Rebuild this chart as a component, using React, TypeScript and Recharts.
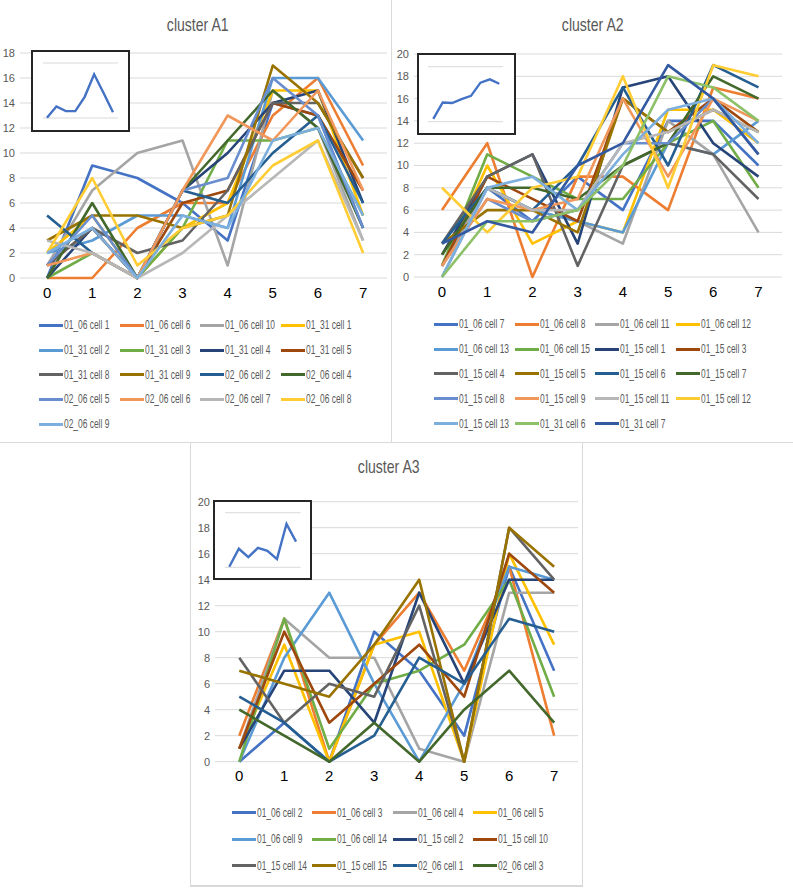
import React from "react";
import { LineChart, Line, XAxis, YAxis, CartesianGrid } from "recharts";

const categories = [0, 1, 2, 3, 4, 5, 6, 7];
const ticks18 = [0, 2, 4, 6, 8, 10, 12, 14, 16, 18];
const ticks20 = [0, 2, 4, 6, 8, 10, 12, 14, 16, 18, 20];

// Excel office palette, in series order
const palette = [
  "#4472C4", "#ED7D31", "#A5A5A5", "#FFC000", "#5B9BD5", "#70AD47", "#264478",
  "#9E480E", "#636363", "#997300", "#255E91", "#43682B", "#698ED0", "#F1975A",
  "#B7B7B7", "#FFCD33", "#7CAFDD", "#8CC168", "#335AA1",
];

const a1Names = [
  "01_06 cell 1", "01_06 cell 6", "01_06 cell 10", "01_31 cell 1", "01_31 cell 2",
  "01_31 cell 3", "01_31 cell 4", "01_31 cell 5", "01_31 cell 8", "01_31 cell 9",
  "02_06 cell 2", "02_06 cell 4", "02_06 cell 5", "02_06 cell 6", "02_06 cell 7",
  "02_06 cell 8", "02_06 cell 9",
];
const a1Values = [
  [0, 9, 8, 6, 3, 14, 13, 4],
  [0, 0, 4, 6, 6, 13, 16, 9],
  [1, 7, 10, 11, 1, 15, 12, 3],
  [2, 5, 0, 4, 6, 15, 15, 5],
  [2, 3, 5, 5, 4, 16, 16, 11],
  [0, 2, 0, 4, 11, 11, 12, 5],
  [0, 4, 0, 7, 10, 14, 15, 6],
  [1, 4, 0, 6, 7, 14, 13, 7],
  [1, 4, 2, 3, 7, 14, 14, 8],
  [3, 5, 5, 4, 5, 17, 14, 8],
  [5, 2, 0, 7, 6, 10, 13, 6],
  [0, 6, 0, 7, 11, 15, 12, 4],
  [1, 5, 0, 7, 8, 16, 13, 4],
  [1, 2, 0, 7, 13, 11, 15, 7],
  [3, 2, 0, 2, 5, 8, 11, 3],
  [2, 8, 1, 4, 5, 9, 11, 2],
  [2, 4, 0, 5, 4, 11, 12, 5],
];
const a1Inset = [0.1, 4.2, 2.5, 2.5, 7.7, 15.9, 9.1, 2.1];

const a2Names = [
  "01_06 cell 7", "01_06 cell 8", "01_06 cell 11", "01_06 cell 12", "01_06 cell 13",
  "01_06 cell 15", "01_15 cell 1", "01_15 cell 3", "01_15 cell 4", "01_15 cell 5",
  "01_15 cell 6", "01_15 cell 7", "01_15 cell 8", "01_15 cell 9", "01_15 cell 11",
  "01_15 cell 12", "01_15 cell 13", "01_31 cell 6", "01_31 cell 7",
];
const a2Values = [
  [1, 8, 5, 9, 6, 14, 14, 10],
  [6, 12, 0, 9, 9, 6, 17, 16],
  [1, 8, 6, 5, 3, 14, 11, 4],
  [1, 10, 3, 5, 4, 15, 15, 12],
  [0, 8, 6, 5, 4, 12, 11, 14],
  [1, 11, 9, 7, 7, 12, 14, 8],
  [2, 9, 11, 3, 17, 18, 12, 9],
  [1, 9, 7, 5, 16, 13, 16, 13],
  [3, 9, 11, 1, 10, 12, 11, 7],
  [3, 6, 6, 4, 16, 13, 15, 13],
  [3, 8, 6, 10, 17, 10, 19, 17],
  [2, 8, 8, 7, 10, 12, 18, 16],
  [1, 7, 5, 6, 12, 12, 16, 11],
  [1, 7, 6, 7, 16, 9, 16, 14],
  [0, 8, 6, 6, 12, 13, 15, 13],
  [8, 4, 8, 9, 18, 8, 19, 18],
  [0, 8, 9, 6, 11, 15, 16, 12],
  [0, 5, 5, 6, 10, 18, 17, 14],
  [3, 5, 4, 10, 12, 19, 16, 11],
];
const a2Inset = [1.0, 7.0, 6.8, 8.2, 9.4, 14.2, 15.4, 13.8];

const a3Names = [
  "01_06 cell 2", "01_06 cell 3", "01_06 cell 4", "01_06 cell 5", "01_06 cell 9",
  "01_06 cell 14", "01_15 cell 2", "01_15 cell 10", "01_15 cell 14", "01_15 cell 15",
  "02_06 cell 1", "02_06 cell 3",
];
const a3Values = [
  [0, 3, 0, 10, 7, 2, 15, 7],
  [2, 11, 0, 9, 13, 7, 15, 2],
  [1, 11, 8, 8, 1, 0, 13, 13],
  [1, 9, 0, 9, 10, 0, 16, 9],
  [0, 8, 13, 6, 0, 6, 15, 14],
  [0, 11, 1, 6, 7, 9, 14, 5],
  [1, 7, 7, 3, 13, 6, 14, 14],
  [1, 10, 3, 6, 9, 5, 16, 13],
  [8, 3, 6, 5, 12, 0, 18, 14],
  [7, 6, 5, 9, 14, 0, 18, 15],
  [5, 3, 0, 2, 8, 6, 11, 10],
  [4, 2, 0, 3, 0, 4, 7, 3],
];
const a3Inset = [0.2, 6.8, 3.7, 7.1, 6.0, 3.0, 15.9, 9.4];

const sans = '"Liberation Sans", Arial, sans-serif';
const textGray = "#595959";
const gridGray = "#D9D9D9";

function buildRows(values: number[][]) {
  return categories.map((c, i) => {
    const row: Record<string, number> = { x: c };
    values.forEach((s, k) => {
      row["s" + k] = s[i];
    });
    return row;
  });
}

function Inset({ data, left, top, width, height, m, xDomain }: any) {
  const rows = categories.map((c, i) => ({ x: c, v: data[i] }));
  return (
    <div
      style={{
        position: "absolute", left, top, width, height, boxSizing: "border-box",
        border: "2px solid #262626", background: "#fff",
      }}
    >
      <LineChart width={width - 4} height={height - 4} data={rows} margin={m}>
        <CartesianGrid vertical={false} stroke={gridGray} />
        <XAxis type="number" dataKey="x" domain={xDomain} hide allowDataOverflow />
        <YAxis domain={[0, 20]} ticks={[0, 10, 20]} width={0} tick={false} axisLine={false} tickLine={false} />
        <Line type="linear" dataKey="v" stroke="#4472C4" strokeWidth={2.4} dot={false} isAnimationActive={false} />
      </LineChart>
    </div>
  );
}

function Legend({ names, left, top, rowH, colW }: any) {
  return (
    <div
      style={{
        position: "absolute", left, top, display: "grid",
        gridTemplateColumns: `repeat(4, ${colW}px)`, gridAutoRows: `${rowH}px`,
      }}
    >
      {names.map((n: string, k: number) => (
        <div key={n} style={{ display: "flex", alignItems: "center", whiteSpace: "nowrap" }}>
          <span style={{ width: 24, height: 3, background: palette[k], marginRight: 1, flex: "none" }} />
          <span
            style={{
              display: "inline-block", fontFamily: sans, fontSize: 12, color: textGray,
              transform: "scaleX(0.7)", transformOrigin: "left center",
            }}
          >
            {n}
          </span>
        </div>
      ))}
    </div>
  );
}

function Panel({ title, names, values, yMax, yTicks, box, plot, xDomain, titleX, titleY }: any) {
  const rows = buildRows(values);
  return (
    <>
      <div
        style={{
          position: "absolute", left: titleX - 100, top: titleY - 12, width: 200,
          textAlign: "center", lineHeight: "24px",
        }}
      >
        <span
          style={{
            display: "inline-block", fontFamily: sans, fontSize: 19, color: textGray,
            transform: "scaleX(0.74)", transformOrigin: "center",
          }}
        >
          {title}
        </span>
      </div>
      <div style={{ position: "absolute", left: box.left, top: box.top }}>
        <LineChart
          width={box.width}
          height={box.height}
          data={rows}
          margin={{ top: plot.top, right: box.width - plot.right, bottom: box.height - plot.bottom - 20, left: 0 }}
        >
          <CartesianGrid vertical={false} stroke={gridGray} />
          <XAxis
            type="number"
            dataKey="x"
            domain={xDomain}
            ticks={categories}
            interval={0}
            allowDataOverflow
            axisLine={false}
            tickLine={false}
            tickSize={0}
            tickMargin={9}
            height={20}
            tick={{ fontSize: 15, fill: "#000", fontFamily: sans }}
          />
          <YAxis
            domain={[0, yMax]}
            ticks={yTicks}
            interval={0}
            width={plot.left}
            axisLine={false}
            tickLine={false}
            tickSize={0}
            tickMargin={5}
            tick={{ fontSize: 11, fill: textGray, fontFamily: sans }}
          />
          {values.map((_: number[], k: number) => (
            <Line
              key={names[k]}
              type="linear"
              dataKey={"s" + k}
              name={names[k]}
              stroke={palette[k]}
              strokeWidth={2.6}
              strokeLinejoin="round"
              dot={false}
              isAnimationActive={false}
            />
          ))}
        </LineChart>
      </div>
    </>
  );
}

export default function App() {
  const line = (s: React.CSSProperties) => (
    <div style={{ position: "absolute", background: gridGray, ...s }} />
  );
  return (
    <div style={{ position: "absolute", left: 0, top: 0, width: 793, height: 893, background: "#fff", overflow: "hidden" }}>
      {line({ left: 391, top: 0, width: 1, height: 442 })}
      {line({ left: 0, top: 442, width: 793, height: 1 })}
      {line({ left: 190, top: 442, width: 1, height: 444 })}
      {line({ left: 582, top: 442, width: 1, height: 444 })}
      {line({ left: 190, top: 885, width: 393, height: 2 })}

      <Panel
        title="cluster A1"
        names={a1Names}
        values={a1Values}
        yMax={18}
        yTicks={ticks18}
        box={{ left: 0, top: 0, width: 391, height: 305 }}
        plot={{ left: 20, right: 387, top: 53, bottom: 278 }}
        xDomain={[-0.6, 7.53]}
        titleX={198}
        titleY={25}
      />
      <Inset data={a1Inset} left={31} top={50} width={99} height={82} m={{ top: 11, bottom: 12, left: 10, right: 10 }} xDomain={[-0.42, 7.53]} />
      <Legend names={a1Names} left={39} top={313} rowH={24.7} colW={80.5} />

      <Panel
        title="cluster A2"
        names={a2Names}
        values={a2Values}
        yMax={20}
        yTicks={ticks20}
        box={{ left: 392, top: 0, width: 401, height: 305 }}
        plot={{ left: 22, right: 390, top: 54, bottom: 277 }}
        xDomain={[-0.62, 7.52]}
        titleX={593}
        titleY={25}
      />
      <Inset data={a2Inset} left={417} top={53} width={99} height={82} m={{ top: 11.7, bottom: 11.3, left: 9, right: 11 }} xDomain={[-0.56, 7.39]} />
      <Legend names={a2Names} left={434} top={312} rowH={24.8} colW={80.5} />

      <Panel
        title="cluster A3"
        names={a3Names}
        values={a3Values}
        yMax={20}
        yTicks={ticks20}
        box={{ left: 190, top: 443, width: 392, height: 346 }}
        plot={{ left: 25, right: 388, top: 58.7, bottom: 318.7 }}
        xDomain={[-0.54, 7.53]}
        titleX={389}
        titleY={467}
      />
      <Inset data={a3Inset} left={213} top={500} width={99} height={80} m={{ top: 10.7, bottom: 10.7, left: 10, right: 9.3 }} xDomain={[-0.45, 7.49]} />
      <Legend names={a3Names} left={232} top={799.4} rowH={26.6} colW={80.3} />
    </div>
  );
}
